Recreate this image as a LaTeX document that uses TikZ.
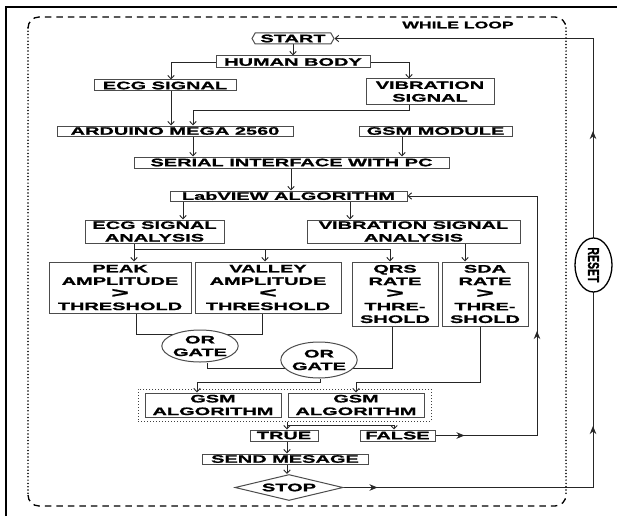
\documentclass[tikz,border=0pt]{standalone}
\usepackage{fontspec}
\usepackage{graphicx}
\newfontfamily\dfont{Liberation Sans}[FakeStretch=1.85, BoldFeatures={FakeBold=1.2}]
\newfontfamily\nfont{Liberation Sans}[BoldFeatures={FakeBold=1.2}]
\usetikzlibrary{arrows.meta,shapes.geometric,shapes.symbols,decorations.markings,fit}
\pgfdeclarelayer{bg}
\pgfsetlayers{bg,main}
\newcommand{\gtr}{\scalebox{1.5}[1.3]{>}}
\newcommand{\lss}{\scalebox{1.5}[1.3]{<}}
\begin{document}
\begin{tikzpicture}[x=1pt,y=-1pt,
  box/.style={draw=black!70, line width=1pt, inner sep=0pt, align=center, fill=white,
    font=\dfont\bfseries\fontsize{10.8}{12.6}\selectfont},
  sz/.style 2 args={minimum width=#1, minimum height=#2},
  conn/.style={line width=0.9pt, draw=black!85},
  arr/.style={conn, -{Straight Barb[length=3.5pt,width=6.5pt]}},
  loopdash/.style={line width=1.3pt, dash pattern=on 6.5pt off 5pt},
  loopdot/.style={line width=1.7pt, dash pattern=on 0pt off 3.3pt, line cap=round}
]
\useasboundingbox (0,0) rectangle (617,516);
% outer frame lines
\draw[line width=2pt] (6,516) -- (6,7) -- (617,7);
% while loop frame
\draw[loopdash, rounded corners=11] (28,28) |- (297,17) -| (566,28);
\draw[loopdash, rounded corners=11] (28,495) |- (297,506) -| (566,495);
\draw[loopdot] (28,28) -- (28,495);
\draw[loopdot] (566,28) -- (566,495);
\node[font=\dfont\bfseries\fontsize{9.5}{10}\selectfont, inner sep=0] (wl) at (458,25) {WHILE LOOP};

% nodes
\node[box, signal, signal to=east and west, signal pointer angle=120, sz={82}{11}] (start) at (293,38.5) {START};
\node[box, sz={154}{12}] (human) at (293,62) {HUMAN BODY};
\node[box, sz={142}{11}] (ecg) at (165,85.5) {ECG SIGNAL};
\node[box, sz={128}{25}] (vib) at (430,91.5) {VIBRATION\\SIGNAL};
\node[box, sz={236}{10}] (arduino) at (175,131) {ARDUINO MEGA 2560};
\node[box, sz={153}{10}] (gsm) at (435.5,131) {GSM MODULE};
\node[box, sz={315}{11}] (serial) at (291.5,162.5) {SERIAL INTERFACE WITH PC};
\node[box, sz={237}{10}] (labview) at (288.5,196) {LabVIEW ALGORITHM};
\node[box, sz={139}{23}] (ecga) at (154.5,231.5) {ECG SIGNAL\\ANALYSIS};
\node[box, sz={213}{23}] (viba) at (413.5,231.5) {VIBRATION SIGNAL\\ANALYSIS};
\node[box, sz={142}{51}] (peak) at (120,287.5) {PEAK\\AMPLITUDE\\\gtr\\THRESHOLD};
\node[box, sz={146}{51}] (valley) at (268,287.5) {VALLEY\\AMPLITUDE\\\lss\\THRESHOLD};
\node[box, sz={86}{64}] (qrs) at (395,294) {QRS\\RATE\\\gtr\\THRE-\\SHOLD};
\node[box, sz={86}{64}] (sda) at (485,294) {SDA\\RATE\\\gtr\\THRE-\\SHOLD};
\node[box, ellipse, sz={64}{32}] (or1) at (200,346) {OR\\GATE};
\node[box, ellipse, sz={72}{36}] (or2) at (319,360) {OR\\GATE};
\node[box, sz={136}{24}] (gsm1) at (213,405) {GSM\\ALGORITHM};
\node[box, sz={136}{24}] (gsm2) at (356,405) {GSM\\ALGORITHM};
\node[draw=black!75, line width=1pt, dash pattern=on 1pt off 2pt, inner xsep=6.5pt, inner ysep=3.5pt, fit=(gsm1)(gsm2)] (grp) {};
\node[box, sz={68}{11}] (true) at (284,435.5) {TRUE};
\node[box, sz={75}{11}] (false) at (397.5,435.5) {FALSE};
\node[box, sz={166}{10}] (send) at (285,459) {SEND MESAGE};
\node[box, diamond, aspect=4.2, sz={108}{26}] (stop) at (289,487.5) {STOP};
\node[ellipse, draw=black, line width=1.3pt, fill=white, rotate=-90, inner sep=0pt,
  minimum width=54, minimum height=37, font=\nfont\bfseries\fontsize{10.5}{12}\selectfont] (reset) at (593.5,265) {\scalebox{1}[1.5]{RESET}};

% column coordinates
\coordinate (xecg) at (171,0);
\coordinate (xvib) at (409,0);
\coordinate (xard) at (193,0);
\coordinate (xgsm) at (402,0);
\coordinate (xser) at (291,0);
\coordinate (xla) at (183,0);
\coordinate (xlb) at (350,0);
\coordinate (xp) at (134,0);
\coordinate (xv) at (265,0);
\coordinate (xq) at (390,0);
\coordinate (xs) at (465,0);
\coordinate (xpb) at (136,0);
\coordinate (xvb) at (262,0);
\coordinate (xo1) at (207,0);
\coordinate (xqb) at (392,0);
\coordinate (xo2) at (320,0);
\coordinate (xg1) at (197,0);
\coordinate (xsb) at (480,0);
\coordinate (xg2) at (356,0);
\coordinate (xt) at (287,0);
\coordinate (xf) at (394,0);
\coordinate (xfr) at (537,0);
\coordinate (xr) at (593,0);
\coordinate (bus) at (0,249);

\begin{pgfonlayer}{bg}
\draw[arr] (start.south) -- (human.north);
\draw[arr] (human.west) -| (xecg |- ecg.north);
\draw[arr] (human.east) -| (xvib |- vib.north);
\draw[arr] (xecg |- ecg.south) -- (xecg |- arduino.north);
\draw[arr] (xvib |- vib.south) -- ++(0,6) -| (xard |- arduino.north);
\draw[arr] (xard |- arduino.south) -- (xard |- serial.north);
\draw[arr] (xgsm |- gsm.south) -- (xgsm |- serial.north);
\draw[arr] (xser |- serial.south) -- (xser |- labview.north);
\draw[arr] (xla |- labview.south) -- (xla |- ecga.north);
\draw[arr] (xlb |- labview.south) -- (xlb |- viba.north);
\draw[arr] (xp |- ecga.south) -- (xp |- peak.north);
\draw[conn] (xp |- bus) -- (xq |- bus);
\draw[arr] (xv |- bus) -- (xv |- valley.north);
\draw[arr] (xq |- bus) -- (xq |- qrs.north);
\draw[arr] (xs |- viba.south) -- (xs |- sda.north);
\draw[conn] (xpb |- peak.south) -- ++(0,21) -| (xvb |- valley.south);
\draw[conn] (xo1 |- or1.south) -- ++(0,6) -| (xqb |- qrs.south);
\draw[arr] (xo2 |- or2.south) -- ++(0,4) -| (xg1 |- gsm1.north);
\draw[arr] (xsb |- sda.south) -- ++(0,56) -| (xg2 |- gsm2.north);
\draw[arr] (xt |- grp.south) -- (xt |- true.north);
\draw[arr] (xt |- grp.south) -- ++(0,4) -| (xf |- false.north);
\draw[arr] (xt |- true.south) -- (xt |- send.north);
\draw[arr] (xt |- send.south) -- (xt |- stop.north);
\draw[arr, postaction={decorate}, decoration={markings,
    mark=at position 29pt with {\arrow{Stealth[length=8pt,width=6.5pt,inset=2.5pt]}},
    mark=at position 206pt with {\arrow{Stealth[length=8pt,width=6.5pt,inset=2.5pt]}}}]
  (false.east) -- (xfr |- false.east) -- (xfr |- labview.east) -- (labview.east);
\draw[arr, postaction={decorate}, decoration={markings,
    mark=at position 34pt with {\arrow{Stealth[length=8pt,width=6.5pt,inset=2.5pt]}},
    mark=at position 311pt with {\arrow{Stealth[length=8pt,width=6.5pt,inset=2.5pt]}},
    mark=at position 606pt with {\arrow{Stealth[length=8pt,width=6.5pt,inset=2.5pt]}}}]
  (stop.east) -- (xr |- stop.east) -- (xr |- start.east) -- (start.east);
\end{pgfonlayer}
\end{tikzpicture}
\end{document}
